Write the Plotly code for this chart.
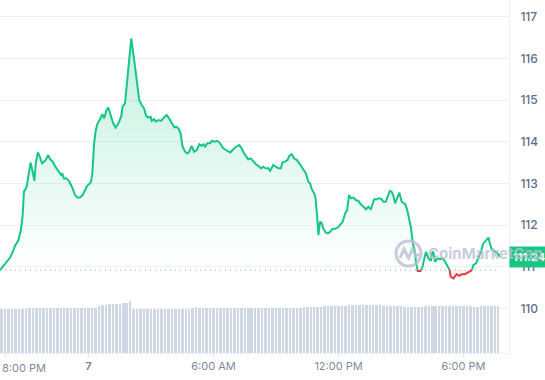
import pandas as pd
import plotly.graph_objects as go

# ---------------- data ----------------
start_time = "2024-05-06 19:45"
open_price = 110.92

price_minutes = [
    0, 9, 20, 29, 37, 43, 53, 60, 65, 69, 77, 82, 88, 94, 99, 103, 109, 113, 121, 130,
    139, 144, 152, 158, 168, 176, 179, 184, 192, 200, 207, 216, 223, 230, 238, 246, 251, 259, 262, 266,
    271, 276, 281, 288, 295, 300, 307, 312, 319, 326, 333, 341, 349, 353, 360, 367, 372, 378, 384, 389,
    395, 401, 408, 415, 421, 427, 434, 437, 444, 449, 456, 464, 470, 480, 487, 495, 502, 507, 514, 520,
    526, 533, 540, 545, 552, 559, 567, 574, 581, 586, 591, 597, 605, 610, 619, 626, 634, 643, 655, 663,
    672, 680, 689, 696, 703, 711, 715, 722, 730, 737, 744, 752, 758, 765, 773, 778, 787, 794, 802, 809,
    813, 821, 828, 833, 840, 847, 855, 864, 874, 881, 888, 893, 898, 905, 909, 913, 915, 917, 922, 927,
    931, 938, 944, 951, 957, 965, 973, 979, 987, 994, 1000, 1005, 1011, 1018, 1025, 1032, 1039, 1047, 1054, 1061,
    1068, 1072, 1078, 1085, 1090, 1097, 1104, 1111, 1117, 1123, 1128, 1133, 1138, 1144, 1150, 1157, 1167, 1173, 1178, 1184,
    1189, 1195, 1198, 1203, 1211, 1216, 1221, 1227, 1234, 1241, 1244, 1248, 1253, 1260, 1267, 1275, 1282, 1288, 1294, 1298,
    1306, 1315, 1323, 1330, 1339, 1349, 1359, 1363, 1371, 1378, 1385, 1392, 1400, 1407, 1411, 1416, 1423, 1431, 1440,
]
price_values = [
    110.92, 111.02, 111.12, 111.22, 111.36, 111.50, 111.64, 111.88, 112.20, 112.80, 112.92, 113.24, 113.50, 113.28, 113.06, 113.48, 113.74, 113.68, 113.48, 113.54,
    113.68, 113.58, 113.52, 113.42, 113.30, 113.20, 113.24, 113.12, 113.12, 113.04, 112.92, 112.72, 112.66, 112.66, 112.72, 112.84, 112.94, 113.00, 113.04, 113.24,
    113.96, 114.28, 114.44, 114.54, 114.66, 114.56, 114.76, 114.82, 114.60, 114.44, 114.34, 114.44, 114.60, 114.84, 114.92, 115.48, 116.04, 116.48, 116.12, 115.80,
    115.40, 115.00, 114.88, 114.80, 114.62, 114.58, 114.60, 114.50, 114.54, 114.48, 114.52, 114.50, 114.56, 114.64, 114.56, 114.44, 114.34, 114.36, 114.32, 114.20,
    113.88, 113.76, 113.72, 113.76, 113.90, 113.76, 113.80, 113.94, 113.90, 113.94, 113.88, 113.96, 113.96, 114.02, 114.00, 114.02, 113.96, 113.84, 113.78, 113.74,
    113.82, 113.88, 113.92, 113.84, 113.72, 113.62, 113.58, 113.60, 113.52, 113.46, 113.42, 113.36, 113.40, 113.36, 113.36, 113.30, 113.44, 113.40, 113.36, 113.36,
    113.50, 113.52, 113.56, 113.66, 113.70, 113.60, 113.56, 113.46, 113.34, 113.24, 113.04, 113.00, 112.86, 112.76, 112.64, 112.32, 112.04, 111.76, 112.08, 112.04,
    111.92, 111.82, 111.80, 111.84, 111.90, 111.91, 111.94, 112.00, 112.08, 112.28, 112.36, 112.72, 112.64, 112.66, 112.60, 112.58, 112.50, 112.44, 112.38, 112.44,
    112.38, 112.48, 112.62, 112.62, 112.64, 112.64, 112.56, 112.56, 112.72, 112.82, 112.80, 112.70, 112.52, 112.68, 112.78, 112.56, 112.50, 112.36, 112.12, 111.92,
    111.56, 111.36, 111.11, 110.90, 110.90, 110.97, 111.16, 111.36, 111.20, 111.14, 111.32, 111.36, 111.12, 111.20, 111.18, 111.20, 111.12, 111.04, 110.96, 110.76,
    110.72, 110.82, 110.78, 110.82, 110.82, 110.86, 110.90, 111.04, 111.08, 111.20, 111.36, 111.56, 111.64, 111.70, 111.56, 111.42, 111.38, 111.34, 111.24,
]

# volume bars, one per 10 minutes (millions)
volume_values = [
    4.4, 4.4, 4.4, 4.4, 4.4, 4.4, 4.4, 4.4,
    4.5, 4.5, 4.5, 4.5, 4.5, 4.5, 4.5, 4.5, 4.5, 4.5, 4.5, 4.5, 4.5, 4.5, 4.5, 4.5, 4.5, 4.5, 4.5, 4.5,
    4.7, 4.8, 4.8, 4.9, 4.9, 4.9, 4.9, 5.0, 5.0, 5.2,
    4.4, 4.4, 4.4, 4.4, 4.4, 4.4, 4.4, 4.4, 4.4, 4.4, 4.4, 4.4, 4.4, 4.4, 4.4, 4.4, 4.4,
    4.5, 4.6, 4.5,
    4.5, 4.5, 4.5, 4.5, 4.5, 4.5, 4.5, 4.5, 4.5, 4.5, 4.5, 4.5, 4.5, 4.5, 4.5, 4.5, 4.5, 4.5, 4.5, 4.5,
    4.5, 4.5, 4.5, 4.5, 4.5, 4.5, 4.5, 4.5, 4.5,
    4.6, 4.6, 4.6, 4.6, 4.6, 4.6,
    4.7, 4.7, 4.7, 4.7, 4.7, 4.7, 4.7,
    4.8, 4.8, 4.8, 4.8, 4.8, 4.8, 4.8, 4.8, 4.8, 4.8,
    4.7, 4.7, 4.7, 4.7, 4.7, 4.7,
    4.6, 4.6, 4.6, 4.6, 4.6, 4.6,
    4.7, 4.7, 4.7, 4.7, 4.7, 4.7, 4.7, 4.7, 4.7, 4.7, 4.7, 4.7, 4.7, 4.7,
    4.6, 4.6,
    4.7, 4.7, 4.7, 4.7, 4.7, 4.7,
]
volume_interval_min = 10

tick_times = ["2024-05-06 20:00", "2024-05-07 00:00", "2024-05-07 06:00",
              "2024-05-07 12:00", "2024-05-07 18:00"]
tick_labels = ["8:00 PM", "7", "6:00 AM", "12:00 PM", "6:00 PM"]
price_ticks = [110, 111, 112, 113, 114, 115, 116, 117]

# ---------------- styling ----------------
GREEN = "#16c784"
RED = "#ea3943"
GRID = "#eff1f4"
LABEL = "#616e85"
Y_RANGE = [108.93, 117.40]

t0 = pd.Timestamp(start_time)
times = [t0 + pd.Timedelta(minutes=m) for m in price_minutes]
base = open_price

# split price line into green (>= open) and red (< open) runs
pieces = []
for i in range(len(times) - 1):
    ta, tb = times[i], times[i + 1]
    pa, pb = price_values[i], price_values[i + 1]
    ca, cb = pa >= base, pb >= base
    if ca == cb:
        pieces.append((ca, [(ta, pa), (tb, pb)]))
    else:
        f = (base - pa) / (pb - pa)
        tc = ta + (tb - ta) * f
        pieces.append((ca, [(ta, pa), (tc, base)]))
        pieces.append((cb, [(tc, base), (tb, pb)]))
runs = []
for col, pts in pieces:
    if runs and runs[-1][0] == col:
        runs[-1][1].extend(pts[1:])
    else:
        runs.append((col, list(pts)))


def build(flag):
    xs, ys = [], []
    for col, pts in runs:
        if col == flag:
            xs += [p[0] for p in pts] + [None]
            ys += [p[1] for p in pts] + [None]
    return xs, ys


gx, gy = build(True)
rx, ry = build(False)

fig = go.Figure()

# volume bars
vol_times = [t0 + pd.Timedelta(minutes=volume_interval_min * i + volume_interval_min / 2)
             for i in range(len(volume_values))]
fig.add_trace(go.Bar(x=vol_times, y=volume_values, yaxis="y2",
                     marker=dict(color="#cfd6e4", line=dict(width=0)),
                     width=volume_interval_min * 60000 * 0.72, hoverinfo="skip"))

# fills
upper = [max(p, base) for p in price_values]
lower = [min(p, base) for p in price_values]
fig.add_trace(go.Scatter(x=times, y=[base] * len(times), mode="lines",
                         line=dict(width=0), hoverinfo="skip"))
fig.add_trace(go.Scatter(x=times, y=upper, mode="lines", line=dict(width=0),
                         fill="tonexty",
                         fillgradient=dict(type="vertical", start=base, stop=116.6,
                                           colorscale=[[0, "rgba(22,199,132,0.0)"],
                                                       [1, "rgba(22,199,132,0.27)"]]),
                         hoverinfo="skip"))
fig.add_trace(go.Scatter(x=times, y=[base] * len(times), mode="lines",
                         line=dict(width=0), hoverinfo="skip"))
fig.add_trace(go.Scatter(x=times, y=lower, mode="lines", line=dict(width=0),
                         fill="tonexty", fillcolor="rgba(234,57,67,0.08)",
                         hoverinfo="skip"))

# baseline (open price)
fig.add_trace(go.Scatter(x=[times[0], times[-1]], y=[base, base], mode="lines",
                         line=dict(color="#a1a7b3", width=1, dash="1px,4px"),
                         hoverinfo="skip"))

# price line
fig.add_trace(go.Scatter(x=gx, y=gy, mode="lines", line=dict(color=GREEN, width=2),
                         connectgaps=False, hoverinfo="skip"))
fig.add_trace(go.Scatter(x=rx, y=ry, mode="lines", line=dict(color=RED, width=2),
                         connectgaps=False, hoverinfo="skip"))

W, H = 545, 380
ML, MR, MT, MB = 0, 36, 0, 27
PW, PH = W - ML - MR, H - MT - MB


def px(xp):
    return xp / PW


def py(yp):
    return 1 - yp / PH


x_end = t0 + pd.Timedelta(minutes=1466)

fig.update_layout(
    width=W, height=H,
    margin=dict(l=ML, r=MR, t=MT, b=MB),
    paper_bgcolor="white", plot_bgcolor="white",
    showlegend=False,
    bargap=0,
    font=dict(family="Inter, sans-serif"),
    xaxis=dict(
        range=[t0, x_end],
        tickvals=[pd.Timestamp(t) for t in tick_times],
        ticktext=[""] + ["<b>7</b>" if s == "7" else s for s in tick_labels[1:]],
        tickfont=dict(size=11, color="#808a9d"),
        ticks="outside", ticklen=3, tickcolor="#e3e6eb",
        showgrid=False, zeroline=False,
        showline=True, linecolor=GRID, linewidth=1,
        fixedrange=True,
    ),
    yaxis=dict(
        side="right",
        range=Y_RANGE,
        tickvals=price_ticks,
        ticktext=[str(v) for v in price_ticks],
        tickfont=dict(size=12, color=LABEL, weight=500),
        ticks="", ticklabelstandoff=8,
        showgrid=True, gridcolor=GRID, gridwidth=1,
        zeroline=False,
        showline=True, linecolor=GRID, linewidth=1, mirror=False,
        fixedrange=True,
    ),
    yaxis2=dict(overlaying="y", range=[0, PH / 10], visible=False, fixedrange=True),
)

# watermark text (added first; later annotations are drawn underneath in this setup)
wm = "rgba(185,192,207,0.8)"
last_frac = (price_values[-1] - Y_RANGE[0]) / (Y_RANGE[1] - Y_RANGE[0])
annotations = [
    dict(xref="paper", yref="paper", x=px(426), y=py(253), xanchor="left",
         yanchor="middle", text="<b>CoinMarketCap</b>", showarrow=False,
         font=dict(size=15, color=wm)),
    # current price badge
    dict(xref="paper", yref="paper", x=1, y=last_frac, xanchor="left",
         yanchor="middle", text=f"<b>{price_values[-1]:.2f}</b>", showarrow=False,
         bgcolor=GREEN, borderpad=3, font=dict(size=11, color="white")),
    # first (clipped) time label, left aligned at plot edge
    dict(xref="paper", yref="paper", x=0, y=py(PH + 15), xanchor="left",
         yanchor="middle", text=tick_labels[0], showarrow=False,
         font=dict(size=11, color="#808a9d")),
]
fig.update_layout(annotations=annotations[::-1])

fig.add_shape(type="circle", xref="paper", yref="paper",
              x0=px(396), x1=px(421), y0=py(266), y1=py(241),
              line=dict(color=wm, width=3), layer="above")
path_pts = [(400, 258), (404, 249), (408.5, 258), (412.5, 249), (416, 256), (419.5, 254)]
path = "M " + " L ".join(f"{px(a):.4f},{py(b):.4f}" for a, b in path_pts)
fig.add_shape(type="path", xref="paper", yref="paper", path=path,
              line=dict(color=wm, width=3), layer="above")

fig.write_html("out.html", config={"displayModeBar": False, "staticPlot": True},
               post_script="document.body.style.margin='0';document.body.style.overflow='hidden';")
